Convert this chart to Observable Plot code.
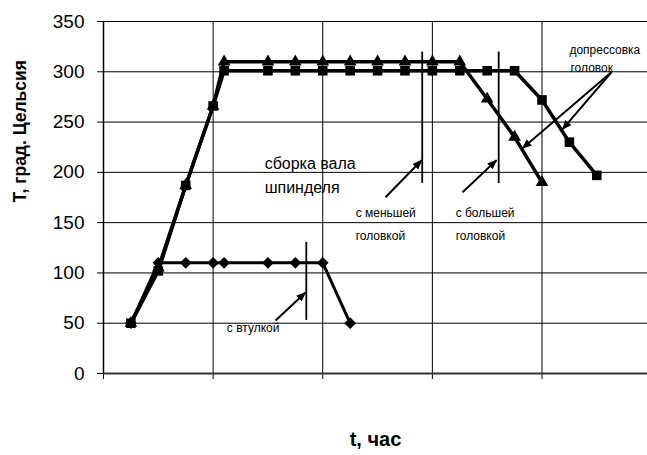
<!DOCTYPE html>
<html><head><meta charset="utf-8">
<script src="https://cdn.jsdelivr.net/npm/d3@7"></script>
<script src="https://cdn.jsdelivr.net/npm/@observablehq/plot@0.6"></script>
<style>
body{margin:0;background:#fff}
#chart svg{font-family:"Liberation Sans",Arial,sans-serif;background:#fff}
</style>
</head><body><div id="chart"></div>
<script>
// Time (hours) and temperature series
const squareX = [1,2,3,4,4.4,6,7,8,9,10,11,12,13,14,15,16,17,18];
const squareT = [50,102,187,266,301,301,301,301,301,301,301,301,301,301,301,272,230,197];
const triangleX = [1,2,3,4,4.4,6,7,8,9,10,11,12,13,14,15,16];
const triangleT = [50,105,187,266,310,310,310,310,310,310,310,310,310,273,235,190];
const diamondX = [1,2,3,4,4.4,6,7,8,9];
const diamondT = [50,110,110,110,110,110,110,110,50];

const yTicks = [0,50,100,150,200,250,300,350];
const xTicks = [0,4,8,12,16];

// Annotations (data coordinates)
const bigNoteText = ["сборка вала","шпинделя"];
const bigNoteX = [5.88,5.88];
const bigNoteY = [208,185];
const smallNoteText = ["с меньшей","головкой","с большей","головкой","допрессовка","головок","с втулкой"];
const smallNoteX = [9.2,9.2,12.85,12.85,17.0,17.04,4.5];
const smallNoteY = [159,137,159,137,322,304,45];
const markerLineX = [7.40,11.63,14.42];
const markerLineY1 = [52.8,189,189];
const markerLineY2 = [130.4,319.6,319.6];
const arrowX1 = [6.28,10.29,13.10,18.54,18.54];
const arrowY1 = [52.8,175.2,180.2,299.7,299.7];
const arrowX2 = [7.37,11.61,14.34,16.75,15.29];
const arrowY2 = [80.6,212,212,242.9,224];

const zip = (xs, ys) => xs.map((x,i)=>({x, t: ys[i]}));
const squares = zip(squareX, squareT);
const triangles = zip(triangleX, triangleT);
const diamonds = zip(diamondX, diamondT);
const bigNotes = bigNoteText.map((s,i)=>({s, x: bigNoteX[i], y: bigNoteY[i]}));
const smallNotes = smallNoteText.map((s,i)=>({s, x: smallNoteX[i], y: smallNoteY[i]}));
const markerLines = markerLineX.map((x,i)=>({x, y1: markerLineY1[i], y2: markerLineY2[i]}));
const arrows = arrowX1.map((x,i)=>({x1: x, y1: arrowY1[i], x2: arrowX2[i], y2: arrowY2[i]}));

const diamondSym = {draw(ctx, size){const h=Math.sqrt(size/2);ctx.moveTo(0,-h);ctx.lineTo(h,0);ctx.lineTo(0,h);ctx.lineTo(-h,0);ctx.closePath();}};

const plot = Plot.plot({
  width: 647, height: 455,
  marginLeft: 103, marginRight: 0, marginTop: 21, marginBottom: 82,
  x: {domain: [0, 19.85], axis: null},
  y: {domain: [0, 350], axis: null},
  marks: [
    Plot.gridY(yTicks.filter(d=>d>0), {stroke: "#000", strokeOpacity: 1, strokeWidth: 1}),
    Plot.gridX(xTicks.filter(d=>d>0), {stroke: "#000", strokeOpacity: 1, strokeWidth: 1}),
    Plot.axisY(yTicks, {tickSize: 6, tickPadding: 13, fontSize: 19, label: null, stroke: "#000"}),
    Plot.axisX(xTicks, {tickSize: 6, tickFormat: () => "", label: null, stroke: "#000"}),
    Plot.ruleX([0], {stroke: "#000", strokeWidth: 1.5}),
    Plot.ruleY([0], {stroke: "#333", strokeWidth: 2}),
    Plot.line(triangles, {x: "x", y: "t", stroke: "#000", strokeWidth: 3.5}),
    Plot.line(squares, {x: "x", y: "t", stroke: "#000", strokeWidth: 3.5}),
    Plot.line(diamonds, {x: "x", y: "t", stroke: "#000", strokeWidth: 3}),
    Plot.dot(triangles, {x: "x", y: "t", symbol: "triangle", r: 4.7, fill: "#000", stroke: "none"}),
    Plot.dot(squares, {x: "x", y: "t", symbol: "square", r: 5.4, fill: "#000", stroke: "none"}),
    Plot.dot(diamonds, {x: "x", y: "t", symbol: diamondSym, r: 4.7, fill: "#000", stroke: "none"}),
    Plot.ruleX(markerLines, {x: "x", y1: "y1", y2: "y2", stroke: "#000", strokeWidth: 1.8}),
    Plot.link(arrows, {x1: "x1", y1: "y1", x2: "x2", y2: "y2", stroke: "#000", strokeWidth: 2}),
    Plot.text(bigNotes, {x: "x", y: "y", text: "s", textAnchor: "start", fontSize: 16, fill: "#000"}),
    Plot.text(smallNotes, {x: "x", y: "y", text: "s", textAnchor: "start", fontSize: 12, fill: "#000", style: "letter-spacing:0.3px"}),
    Plot.text(["Т, град. Цельсия"], {frameAnchor: "left", rotate: -90, dx: -83, dy: 5, fontSize: 17.5, fontWeight: "bold", fill: "#000"}),
    Plot.text(["t, час"], {frameAnchor: "bottom", dy: 72, fontSize: 20, fontWeight: "bold", fill: "#000"})
  ]
});

// filled arrowheads on annotation arrows
const svg = d3.select(plot);
const defs = svg.insert("defs", ":first-child");
defs.append("marker").attr("id", "fillarrow").attr("viewBox", "0 -5 10 10")
  .attr("refX", 9).attr("refY", 0).attr("markerUnits", "userSpaceOnUse")
  .attr("markerWidth", 10).attr("markerHeight", 10).attr("orient", "auto")
  .append("path").attr("d", "M0,-4L10,0L0,4Z").attr("fill", "#000");
svg.selectAll('g[aria-label="link"] path').attr("marker-end", "url(#fillarrow)");
svg.selectAll('g[aria-label="text"] text').filter(function(){return this.parentNode.getAttribute("style");});

document.getElementById("chart").append(plot);
</script>
</body></html>
